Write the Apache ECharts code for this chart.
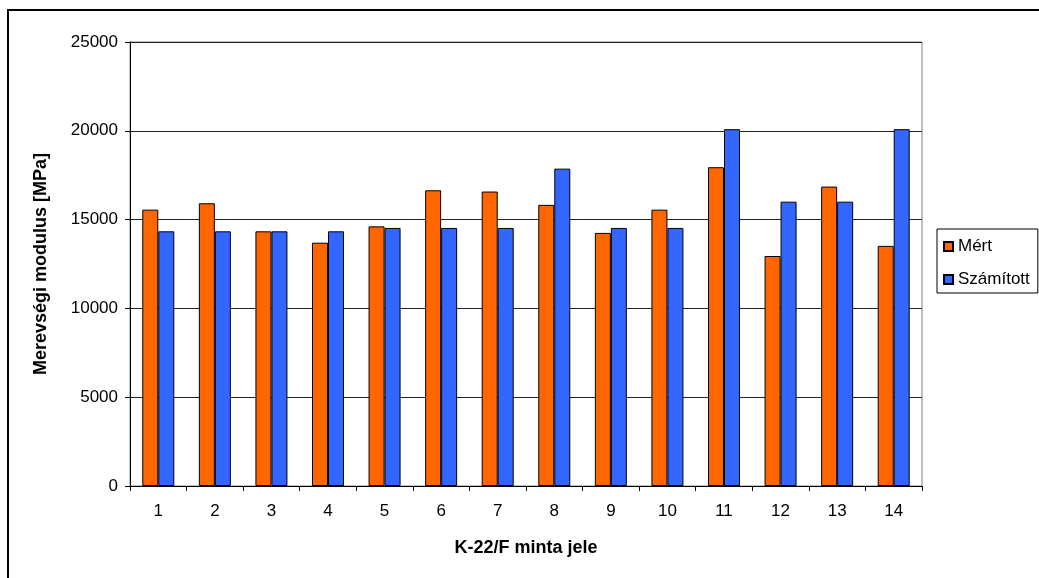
<!DOCTYPE html>
<html>
<head>
<meta charset="utf-8">
<script src="https://cdn.jsdelivr.net/npm/echarts@6/dist/echarts.min.js"></script>
<style>
  html, body { margin: 0; padding: 0; background: #fff; }
  #chart { width: 1039px; height: 578px; }
</style>
</head>
<body>
<div id="chart"></div>
<script>
// Sample labels (K-22/F series)
const categories = ['1', '2', '3', '4', '5', '6', '7', '8', '9', '10', '11', '12', '13', '14'];
// Measured stiffness modulus [MPa]
const mertValues = [15560, 15920, 14340, 13700, 14620, 16650, 16580, 15830, 14250, 15560, 17950, 12950, 16860, 13520];
// Calculated stiffness modulus [MPa]
const szamitottValues = [14340, 14340, 14340, 14340, 14530, 14530, 14530, 17870, 14530, 14530, 20090, 16010, 16010, 20090];
const seriesNames = ['Mért', 'Számított'];
const yTicks = { min: 0, max: 25000, interval: 5000 };

const font = 'Liberation Sans, Arial, sans-serif';
const chart = echarts.init(document.getElementById('chart'), null, { renderer: 'canvas' });

const barStyle = (color) => ({
  color: color,
  borderColor: '#000',
  borderWidth: 1
});

chart.setOption({
  animation: false,
  backgroundColor: '#fff',
  textStyle: { fontFamily: font },
  graphic: [{
    type: 'rect',
    shape: { x: 8, y: 10, width: 2000, height: 2000 },
    style: { fill: 'none', stroke: '#000', lineWidth: 2 },
    silent: true,
    z: -1
  }],
  grid: {
    left: 130, right: 117, top: 42, bottom: 92,
    show: true, borderColor: '#808080', borderWidth: 1, backgroundColor: 'transparent'
  },
  legend: {
    orient: 'vertical',
    left: 937, top: 229,
    padding: [9, 8, 5, 6],
    itemGap: 16,
    itemWidth: 9, itemHeight: 9,
    borderColor: '#000', borderWidth: 1,
    textStyle: { fontFamily: font, fontSize: 17, color: '#000' },
    data: seriesNames.map(n => ({ name: n, icon: 'rect' }))
  },
  xAxis: {
    type: 'category',
    data: categories,
    name: 'K-22/F minta jele',
    nameLocation: 'middle',
    nameGap: 53,
    nameTextStyle: { fontFamily: font, fontSize: 18, fontWeight: 'bold', color: '#000' },
    axisLine: { lineStyle: { color: '#000', width: 1 } },
    axisTick: { show: true, length: 5, lineStyle: { color: '#000' } },
    axisLabel: { fontFamily: font, fontSize: 17, color: '#000', margin: 17 }
  },
  yAxis: {
    type: 'value',
    min: yTicks.min, max: yTicks.max, interval: yTicks.interval,
    name: 'Merevségi modulus [MPa]',
    nameLocation: 'middle',
    nameGap: 80,
    nameTextStyle: { fontFamily: font, fontSize: 18, fontWeight: 'bold', color: '#000' },
    axisLine: { show: true, lineStyle: { color: '#000', width: 1 } },
    axisTick: { show: true, length: 5, lineStyle: { color: '#000' } },
    axisLabel: { fontFamily: font, fontSize: 17, color: '#000', margin: 12, formatter: (v) => String(v) },
    splitLine: { show: true, lineStyle: { color: '#222', width: 1 } }
  },
  series: [
    {
      name: seriesNames[0], type: 'bar', data: mertValues,
      barWidth: 16, barGap: '0%',
      itemStyle: barStyle('#FF6600')
    },
    {
      name: seriesNames[1], type: 'bar', data: szamitottValues,
      barWidth: 16, barGap: '0%',
      itemStyle: barStyle('#3366FF')
    }
  ]
});
</script>
</body>
</html>
